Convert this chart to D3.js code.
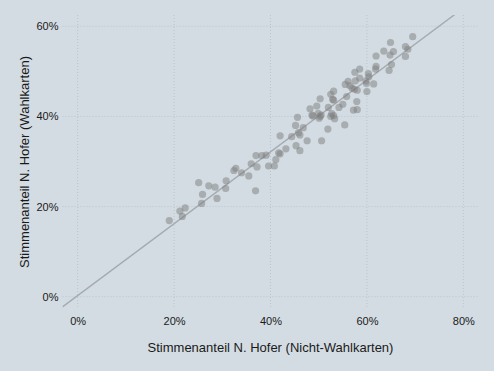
<!DOCTYPE html>
<html>
<head>
<meta charset="utf-8">
<script src="https://cdn.jsdelivr.net/npm/d3@7"></script>
<style>
  html, body { margin: 0; padding: 0; background: #d3dce3; }
  svg { display: block; }
  text { font-family: "Liberation Sans", Arial, sans-serif; fill: #1a1a1a; }
</style>
</head>
<body>
<svg id="chart" width="494" height="371"></svg>
<script>
// Stimmenanteil N. Hofer (%), Nicht-Wahlkarten (x) vs Wahlkarten (y)
const xValues = [69.5,64.9,68.0,68.5,63.5,65.5,64.8,61.9,68.0,65.1,61.9,61.8,64.6,58.5,57.5,60.3,60.4,58.5,57.6,59.8,
  56.1,55.5,56.5,56.9,57.4,58.0,61.4,60.0,53.1,52.5,55.8,50.3,52.9,53.1,57.9,55.0,49.6,54.2,52.0,48.2,
  57.2,58.0,49.9,48.6,48.8,50.5,52.7,52.5,50.1,53.3,45.6,45.2,46.8,51.9,55.4,45.8,46.1,44.4,42.0,47.6,
  50.6,45.3,46.1,43.2,41.7,42.0,37.0,38.2,39.1,41.1,36.0,37.2,39.6,40.8,34.0,35.5,36.9,19.0,21.2,21.7,
  22.3,25.1,25.9,25.7,27.2,28.5,28.9,30.8,30.7,32.4,32.8,53.1,59.9,50.3];
const yValues = [57.7,56.4,55.5,54.9,54.5,54.4,53.6,53.4,53.3,51.5,51.1,50.5,50.2,50.5,49.8,49.5,48.8,48.5,47.9,47.9,
  47.8,47.1,46.8,46.3,46.0,45.8,47.2,45.5,45.6,44.9,44.4,43.9,43.8,43.6,43.3,42.7,42.3,42.0,42.0,41.7,
  41.4,41.5,40.7,40.3,40.1,40.3,40.6,40.0,39.6,39.5,39.8,38.0,37.5,37.2,38.1,36.4,35.9,35.5,35.7,34.6,
  34.6,33.5,32.4,32.8,31.9,31.7,31.3,31.3,31.4,30.4,29.5,28.8,29.0,29.0,27.5,26.8,23.5,16.9,19.0,17.8,
  19.7,25.3,22.7,20.7,24.6,24.3,21.8,25.7,24.0,28.0,28.5,40.2,47.3,40.0];
const xTicks = [0, 20, 40, 60, 80];
const yTicks = [0, 20, 40, 60];
const fitLine = { slope: 0.797, intercept: 0.26 };
const xTitle = "Stimmenanteil N. Hofer (Nicht-Wahlkarten)";
const yTitle = "Stimmenanteil N. Hofer (Wahlkarten)";

const points = xValues.map((x, i) => ({ x, y: yValues[i] }));

const svg = d3.select("#chart");
const panel = { left: 62.5, right: 478.5, top: 15, bottom: 309 };

const x = d3.scaleLinear().domain([-3.15, 83.15]).range([panel.left, panel.right]);
const y = d3.scaleLinear().domain([-2.73, 62.5]).range([panel.bottom, panel.top]);

svg.append("rect").attr("width", 494).attr("height", 371).attr("fill", "#d3dce3");

svg.append("defs").append("clipPath").attr("id", "clip")
  .append("rect")
  .attr("x", panel.left).attr("y", panel.top)
  .attr("width", panel.right - panel.left).attr("height", panel.bottom - panel.top);

// grid lines
const grid = svg.append("g").attr("stroke", "#bcc4cb").attr("stroke-width", 1).attr("stroke-dasharray", "1,2");
grid.selectAll(".vg").data(xTicks).join("line")
  .attr("x1", d => x(d)).attr("x2", d => x(d))
  .attr("y1", panel.top).attr("y2", panel.bottom);
grid.selectAll(".hg").data(yTicks).join("line")
  .attr("y1", d => y(d)).attr("y2", d => y(d))
  .attr("x1", panel.left).attr("x2", panel.right);

// axes (labels only)
const xAxis = svg.append("g")
  .attr("transform", `translate(0,${panel.bottom})`)
  .call(d3.axisBottom(x).tickValues(xTicks).tickFormat(d => d + "%").tickSize(0).tickPadding(8));
const yAxis = svg.append("g")
  .attr("transform", `translate(${panel.left},0)`)
  .call(d3.axisLeft(y).tickValues(yTicks).tickFormat(d => d + "%").tickSize(0).tickPadding(4));
[xAxis, yAxis].forEach(a => {
  a.select(".domain").remove();
  a.selectAll("text").attr("font-size", 11).attr("fill", "#1a1a1a")
    .attr("font-family", "Liberation Sans, Arial, sans-serif");
});

// fitted line
const [x0, x1] = x.domain();
svg.append("line")
  .attr("clip-path", "url(#clip)")
  .attr("x1", x(x0)).attr("y1", y(fitLine.slope * x0 + fitLine.intercept))
  .attr("x2", x(x1)).attr("y2", y(fitLine.slope * x1 + fitLine.intercept))
  .attr("stroke", "#a6abb0").attr("stroke-width", 1.4);

// points
svg.append("g").attr("clip-path", "url(#clip)")
  .selectAll("circle").data(points).join("circle")
  .attr("cx", d => x(d.x)).attr("cy", d => y(d.y)).attr("r", 3.6)
  .attr("fill", "#7d7d7d").attr("fill-opacity", 0.5);

// titles
svg.append("text")
  .attr("x", (panel.left + panel.right) / 2).attr("y", 352)
  .attr("text-anchor", "middle").attr("font-size", 13)
  .text(xTitle);
svg.append("text")
  .attr("transform", `translate(29,${(panel.top + panel.bottom) / 2}) rotate(-90)`)
  .attr("text-anchor", "middle").attr("font-size", 13)
  .text(yTitle);
</script>
</body>
</html>
